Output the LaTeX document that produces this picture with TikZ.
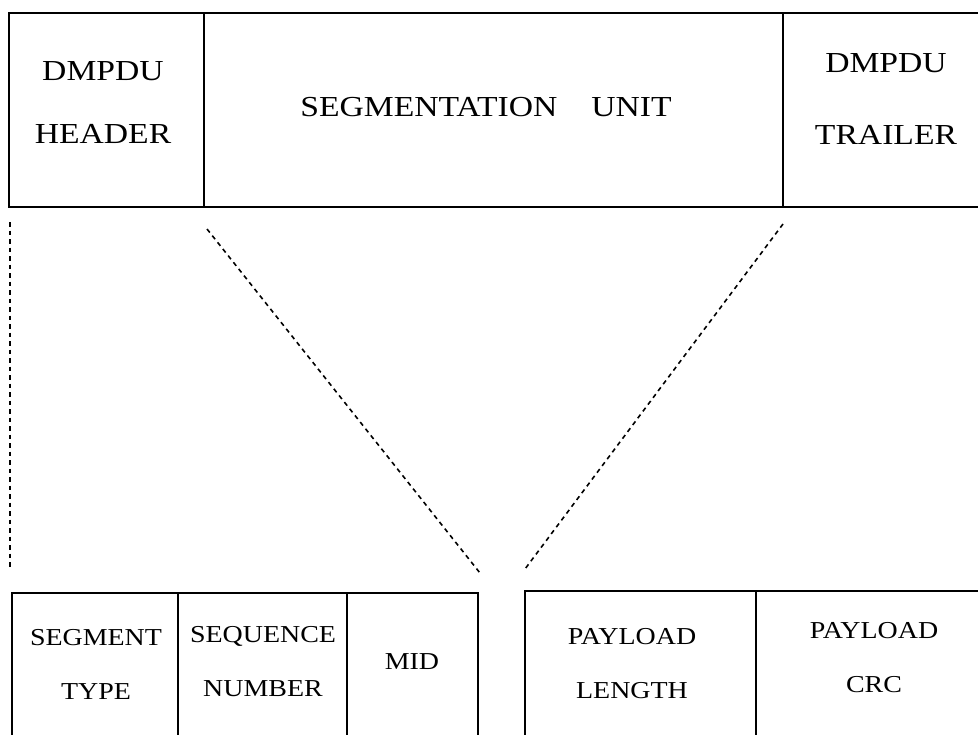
\documentclass[tikz,border=0pt]{standalone}
\usepackage{fontspec}
\setmainfont{Liberation Serif}
\begin{document}
\begin{tikzpicture}[x=1bp,y=-1bp,
  frame/.style={line width=1.6bp},
  guide/.style={line width=1.6bp, dash pattern=on 4.5bp off 4bp},
  biglbl/.style={font=\fontsize{29bp}{63bp}\selectfont, align=center,
    inner sep=0pt, xscale=1.16, transform shape},
  smalllbl/.style={font=\fontsize{24.3bp}{54bp}\selectfont, align=center,
    inner sep=0pt, xscale=1.15, transform shape}]
\useasboundingbox (0,0) rectangle (978,735);
\begin{scope}
\clip (0,0) rectangle (978,735);

% DMPDU: header | segmentation unit | trailer (runs off the right edge)
\draw[frame] (990,13) -- (9,13) -- (9,207) -- (990,207);
\draw[frame] (204,13) -- (204,207);
\draw[frame] (783,13) -- (783,207);

% segment header fields
\draw[frame] (12,745) -- (12,593) -- (478,593) -- (478,745);
\draw[frame] (178,593) -- (178,745);
\draw[frame] (347,593) -- (347,745);

% segment trailer fields
\draw[frame] (525,745) -- (525,591) -- (990,591);
\draw[frame] (756,591) -- (756,745);
\end{scope}

% labels
\node[biglbl] (hdr) at (103,103) {DMPDU\\HEADER};
\node[biglbl] (su) at (486,107) {SEGMENTATION\hspace{22bp} UNIT};
\node[biglbl] (trl) at (886,99) {DMPDU\\[9bp]TRAILER};

\node[smalllbl] (stype) at (96,664) {SEGMENT\\TYPE};
\node[smalllbl] (sseq) at (263,662) {SEQUENCE\\NUMBER};
\node[smalllbl] (mid) at (412,662) {MID};
\node[smalllbl] (plen) at (632,664) {PAYLOAD\\LENGTH};
\node[smalllbl] (pcrc) at (874,658) {PAYLOAD\\CRC};

% expansion guides from the DMPDU down to the segment fields
\coordinate (g1a) at (10,222);
\coordinate (g1b) at (10,567);
\coordinate (g2a) at (207,229);
\coordinate (g2b) at (480,573);
\coordinate (g3a) at (783,224);
\coordinate (g3b) at (525,569);
\draw[guide] (g1a) -- (g1b);
\draw[guide] (g2a) -- (g2b);
\draw[guide] (g3a) -- (g3b);
\end{tikzpicture}
\end{document}
